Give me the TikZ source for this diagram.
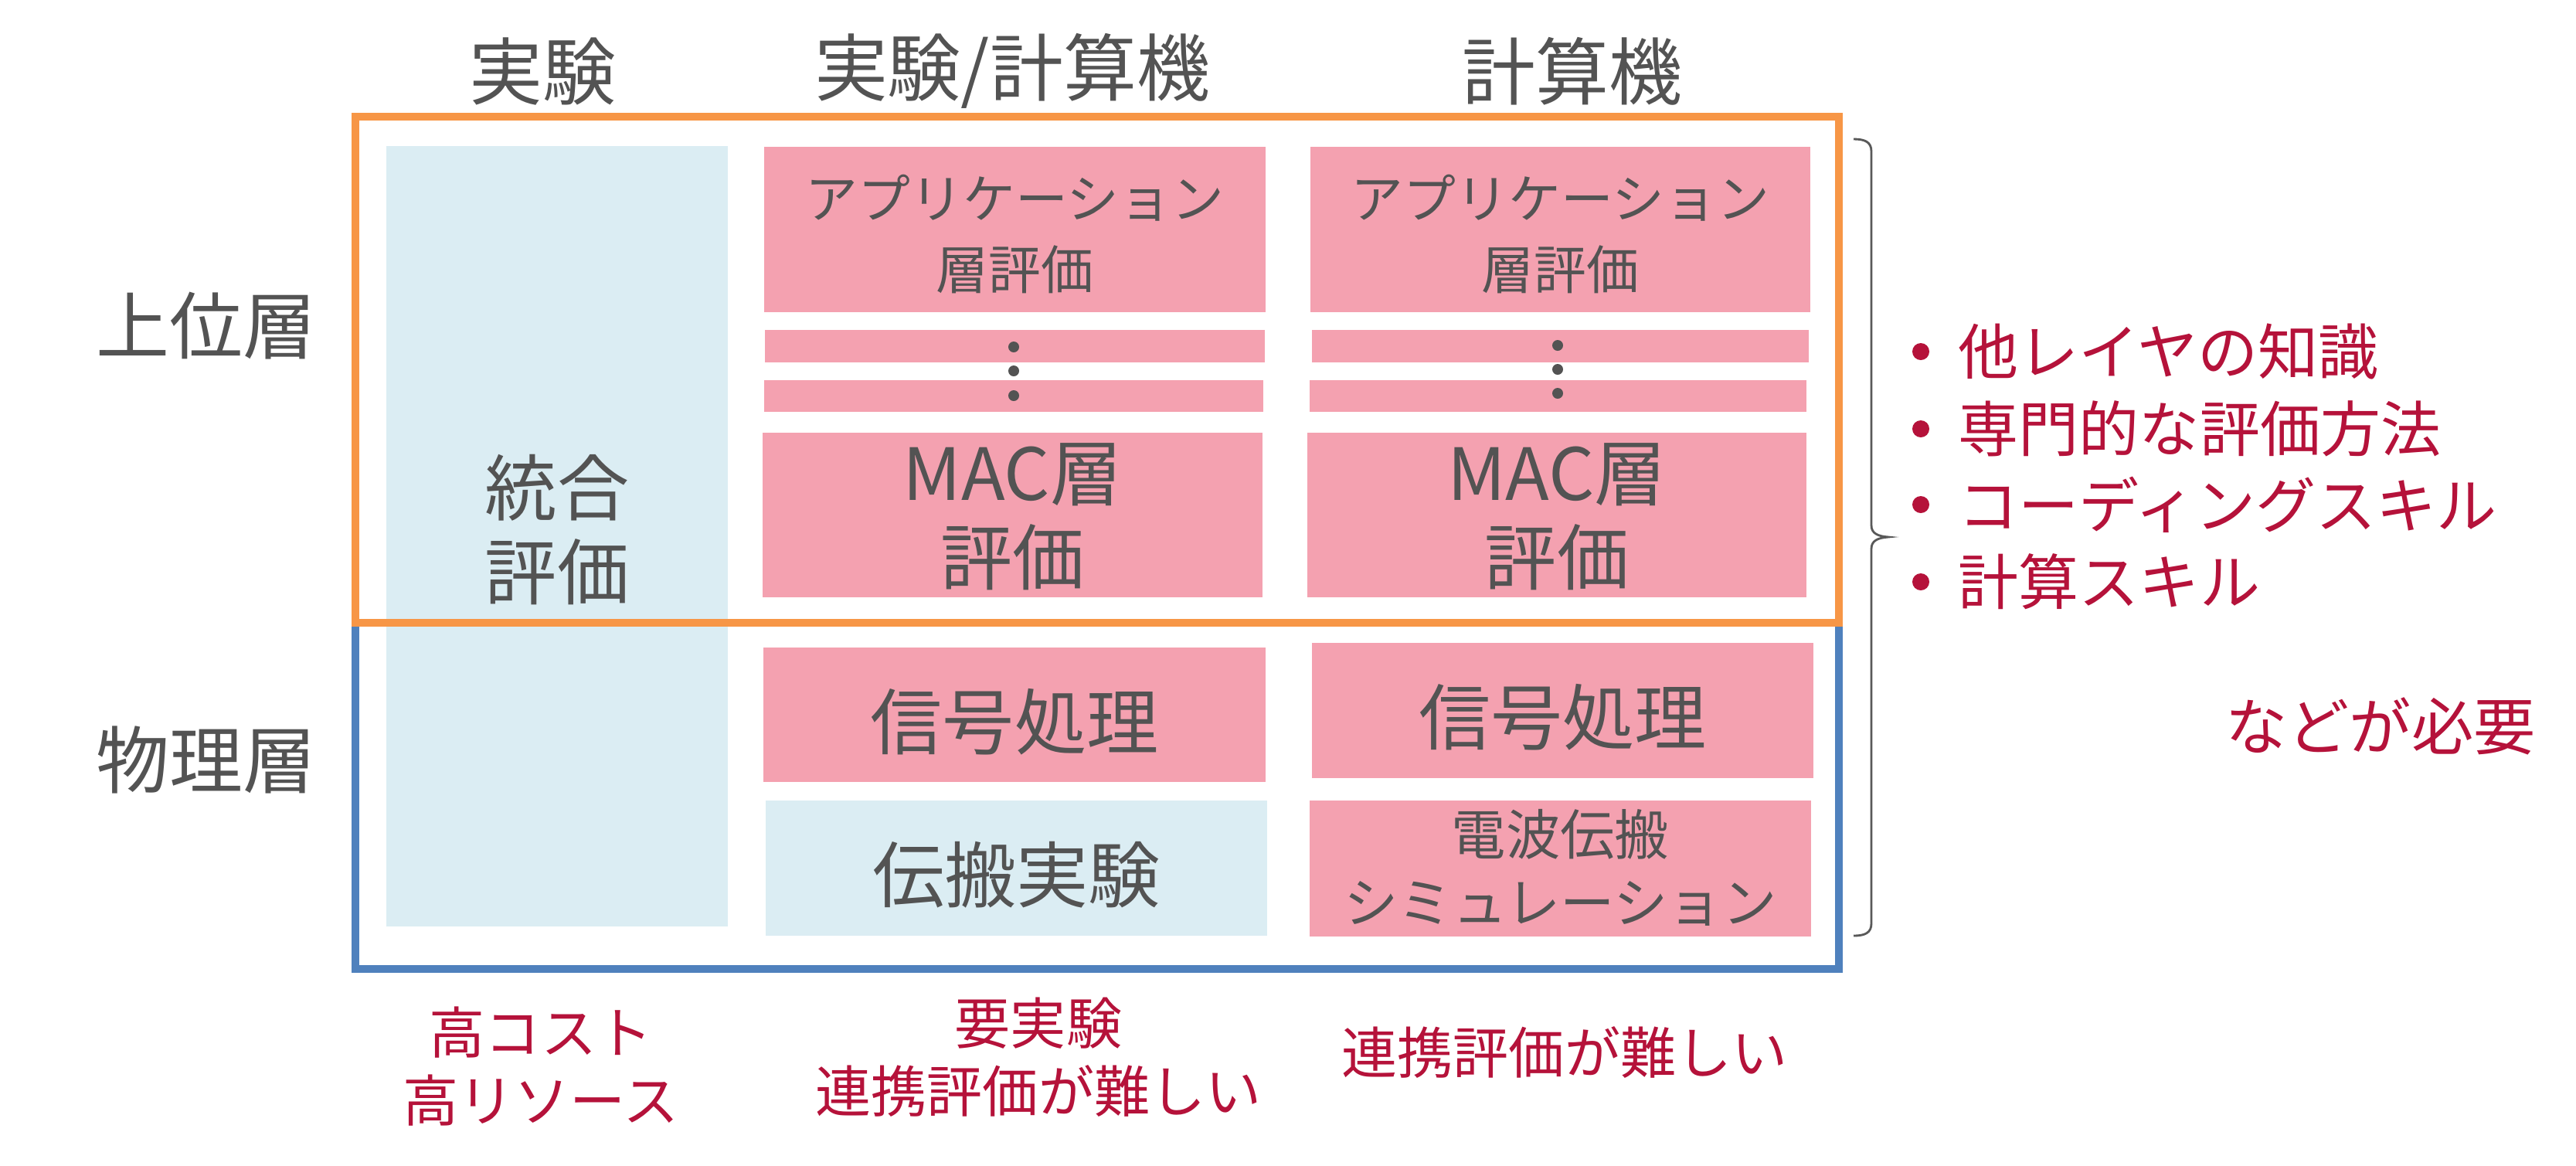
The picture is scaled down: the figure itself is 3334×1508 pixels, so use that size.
\documentclass[tikz,border=0pt]{standalone}
\usepackage{fontspec}
\setmainfont{Noto Sans CJK JP}
\definecolor{txtgray}{HTML}{535353}
\definecolor{pinkf}{HTML}{F4A1B0}
\definecolor{lbluef}{HTML}{DBEDF3}
\definecolor{orangec}{HTML}{F79646}
\definecolor{bluec}{HTML}{4F81BD}
\definecolor{redc}{HTML}{B5123A}
\definecolor{bracec}{HTML}{595959}
\tikzset{
  pinkbox/.style={fill=pinkf, draw=none, inner sep=0pt},
  lbluebox/.style={fill=lbluef, draw=none, inner sep=0pt},
  boxtxt/.style={text=txtgray, inner sep=0pt, align=center},
  hdr/.style={text=txtgray, inner sep=0pt, font=\fontsize{27pt}{31pt}\selectfont},
  bigtxt/.style={boxtxt, font=\fontsize{26.5pt}{31pt}\selectfont},
  apptxt/.style={boxtxt, font=\fontsize{19.3pt}{26.2pt}\selectfont},
  simtxt/.style={boxtxt, font=\fontsize{20pt}{25pt}\selectfont},
  redtxt/.style={text=redc, inner sep=0pt, align=center, font=\fontsize{20.5pt}{25.2pt}\selectfont},
  bultxt/.style={text=redc, inner sep=0pt, anchor=west, font=\fontsize{22.2pt}{28pt}\selectfont},
  dotc/.style={fill=txtgray}
}
\begin{document}
\begin{tikzpicture}[x=0.01cm,y=-0.01cm]
\useasboundingbox (0,0) rectangle (3334,1508);
\fill[white] (0,0) rectangle (3334,1508);

% headers
\node[hdr] (h1) at (702,93) {実験};
\node[hdr] (h2) at (1310,92) {実験/計算機};
\node[hdr] (h3) at (2035,92) {計算機};

% row labels
\node[hdr] (r1) at (267,422) {上位層};
\node[hdr] (r2) at (267,983) {物理層};

% left column
\node[lbluebox, minimum width=4.42cm, minimum height=10.10cm] (left) at (721,694) {};
\node[bigtxt, yshift=0.08cm] (leftT) at (left.center) {統合\\評価};

% middle column
\node[pinkbox, minimum width=6.49cm, minimum height=2.14cm] (midApp) at (1313.5,297) {};
\node[pinkbox, minimum width=6.47cm, minimum height=0.42cm] (midS1) at (1313.5,448) {};
\node[pinkbox, minimum width=6.46cm, minimum height=0.41cm] (midS2) at (1312,512.5) {};
\node[pinkbox, minimum width=6.47cm, minimum height=2.13cm] (midMAC) at (1310.5,666.5) {};
\node[pinkbox, minimum width=6.50cm, minimum height=1.74cm] (midSig) at (1313,925) {};
\node[lbluebox, minimum width=6.49cm, minimum height=1.75cm] (midProp) at (1315.5,1123.5) {};
\node[apptxt, yshift=-0.06cm] (midAppT) at (midApp.center) {アプリケーション\\層評価};
\node[bigtxt, yshift=-0.02cm] (midMACT) at (midMAC.center) {MAC層\\評価};
\node[bigtxt, yshift=-0.09cm] (midSigT) at (midSig.center) {信号処理};
\node[bigtxt, yshift=-0.09cm] (midPropT) at (midProp.center) {伝搬実験};

% right column
\node[pinkbox, minimum width=6.47cm, minimum height=2.14cm] (rApp) at (2019.5,297) {};
\node[pinkbox, minimum width=6.43cm, minimum height=0.42cm] (rS1) at (2019.5,448) {};
\node[pinkbox, minimum width=6.43cm, minimum height=0.41cm] (rS2) at (2016.5,512.5) {};
\node[pinkbox, minimum width=6.46cm, minimum height=2.13cm] (rMAC) at (2015,666.5) {};
\node[pinkbox, minimum width=6.49cm, minimum height=1.75cm] (rSig) at (2022.5,919.5) {};
\node[pinkbox, minimum width=6.49cm, minimum height=1.76cm] (rSim) at (2019.5,1124) {};
\node[apptxt, yshift=-0.06cm] (rAppT) at (rApp.center) {アプリケーション\\層評価};
\node[bigtxt, yshift=-0.02cm] (rMACT) at (rMAC.center) {MAC層\\評価};
\node[bigtxt, yshift=-0.09cm] (rSigT) at (rSig.center) {信号処理};
\node[simtxt, yshift=0.01cm] (rSimT) at (rSim.center) {電波伝搬\\シミュレーション};

% vertical dots
\foreach \yy in {449,480,512} \fill[dotc] (1312,\yy) circle (0.07cm);
\foreach \yy in {447,478,509} \fill[dotc] (2016,\yy) circle (0.07cm);

% frames
\draw[bluec, line width=2.6pt] (460,806) rectangle (2380,1254);
\draw[orangec, line width=2.6pt] (460,151) rectangle (2380,806);

% brace
\draw[bracec, line width=0.8pt] (2399,180) .. controls (2414,180) and (2422,184) .. (2422,196)
  -- (2422,680) .. controls (2422,690) and (2430,694) .. (2444,695)
  .. controls (2430,696) and (2422,700) .. (2422,710)
  -- (2422,1195) .. controls (2422,1207) and (2414,1211) .. (2399,1211);

% bullets
\foreach \yy in {455,555,653,753} \fill[redc] (2486,\yy) circle (0.11cm);
\node[bultxt] (b1) at (2534,455) {他レイヤの知識};
\node[bultxt] (b2) at (2534,555) {専門的な評価方法};
\node[bultxt] (b3) at (2534,653) {コーディングスキル};
\node[bultxt] (b4) at (2534,753) {計算スキル};
\node[bultxt, anchor=center, font=\fontsize{22.8pt}{28pt}\selectfont] (need) at (3081,940) {などが必要};

% bottom notes
\node[redtxt] (n1) at (700,1380) {高コスト\\高リソース};
\node[redtxt] (n2) at (1344,1368) {要実験\\連携評価が難しい};
\node[redtxt] (n3) at (2025,1362) {連携評価が難しい};
\end{tikzpicture}
\end{document}
